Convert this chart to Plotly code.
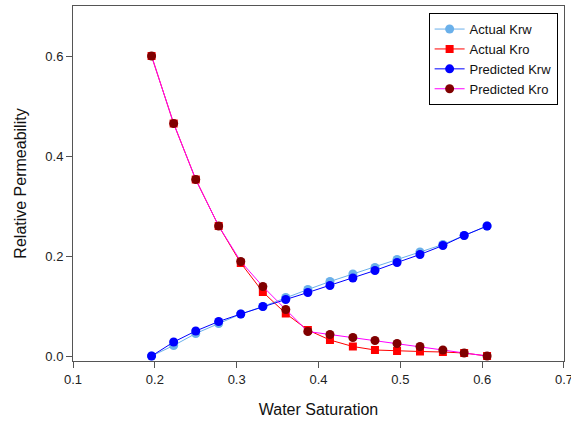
import plotly.graph_objects as go

sw = [0.196, 0.223, 0.250, 0.278, 0.305, 0.332, 0.360, 0.387, 0.414, 0.442,
      0.469, 0.496, 0.524, 0.552, 0.578, 0.606]
actual_krw = [0.000, 0.021, 0.045, 0.065, 0.084, 0.099, 0.117, 0.133, 0.149, 0.164,
              0.177, 0.193, 0.208, 0.223, 0.241, 0.260]
actual_kro = [0.600, 0.465, 0.353, 0.260, 0.186, 0.128, 0.085, 0.052, 0.032, 0.019,
              0.012, 0.010, 0.009, 0.008, 0.006, 0.000]
pred_krw = [0.000, 0.028, 0.050, 0.069, 0.084, 0.099, 0.113, 0.127, 0.141, 0.156,
            0.171, 0.187, 0.203, 0.221, 0.241, 0.260]
pred_kro = [0.600, 0.465, 0.353, 0.260, 0.189, 0.139, 0.093, 0.049, 0.043, 0.037,
            0.031, 0.025, 0.019, 0.012, 0.006, 0.000]

x_ticks = [0.1, 0.2, 0.3, 0.4, 0.5, 0.6, 0.7]
y_ticks = [0.0, 0.2, 0.4, 0.6]

fig = go.Figure()
fig.add_trace(go.Scatter(x=sw, y=actual_krw, name="Actual Krw", mode="lines+markers",
                         line=dict(color="#6AB0EA", width=1),
                         marker=dict(symbol="circle", size=9, color="#6AB0EA")))
fig.add_trace(go.Scatter(x=sw, y=actual_kro, name="Actual Kro", mode="lines+markers",
                         line=dict(color="#FF0000", width=1),
                         marker=dict(symbol="square", size=8, color="#FF0000")))
fig.add_trace(go.Scatter(x=sw, y=pred_krw, name="Predicted Krw", mode="lines+markers",
                         line=dict(color="#0000FF", width=1),
                         marker=dict(symbol="circle", size=9, color="#0000FF")))
fig.add_trace(go.Scatter(x=sw, y=pred_kro, name="Predicted Kro", mode="lines+markers",
                         line=dict(color="#FF00FF", width=1),
                         marker=dict(symbol="circle", size=9, color="#800000")))

axis_common = dict(showgrid=False, zeroline=False, showline=True, linecolor="#555555",
                   linewidth=1, mirror=True, ticks="outside", ticklen=6,
                   tickcolor="#555555", tickfont=dict(size=13, color="#222222"),
                   ticklabeloverflow="allow", automargin=False)

fig.update_layout(
    width=571, height=423,
    margin=dict(l=73, r=7, t=6, b=62),
    paper_bgcolor="white", plot_bgcolor="white",
    font=dict(family="Liberation Sans, Arial, sans-serif", color="#111111"),
    xaxis=dict(range=[0.1, 0.70001], tickvals=x_ticks, tickformat=".1f",
               title=dict(text="Water Saturation", font=dict(size=16), standoff=18),
               **axis_common),
    yaxis=dict(range=[-0.01, 0.70], tickvals=y_ticks, tickformat=".1f",
               title=dict(text="Relative Permeability", font=dict(size=16), standoff=14),
               **axis_common),
    legend=dict(x=0.987, y=0.98, xanchor="right", yanchor="top",
                bgcolor="white", bordercolor="#000000", borderwidth=1,
                font=dict(size=13, color="#111111"), tracegroupgap=0),
    showlegend=True,
)

fig.write_html("out.html")
